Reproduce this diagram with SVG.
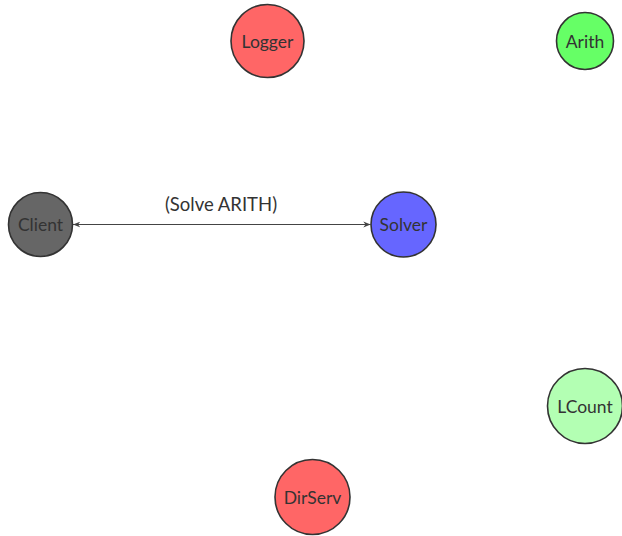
<svg xmlns="http://www.w3.org/2000/svg" width="622" height="536" viewBox="0 0 622 536">
  <style>
    .node circle { stroke: #333333; stroke-width: 1.6; }
    .node text, .label { font-family: "Lato", "Open Sans", "DejaVu Sans", sans-serif; font-size: 17.5px; fill: #333333; text-anchor: middle; dominant-baseline: central; }
    .label { font-size: 18.5px; }
    .edge { stroke: #444444; stroke-width: 1.2; fill: none; }
  </style>
  <defs>
    <marker id="arrow-end" viewBox="0 0 10 10" refX="10" refY="5" markerWidth="6" markerHeight="6" orient="auto">
      <path d="M0,1 L10,5 L0,9 L3,5 Z" fill="#444444"/>
    </marker>
    <marker id="arrow-start" viewBox="0 0 10 10" refX="0" refY="5" markerWidth="6" markerHeight="6" orient="auto">
      <path d="M10,1 L0,5 L10,9 L7,5 Z" fill="#444444"/>
    </marker>
  </defs>
  <rect width="622" height="536" fill="#ffffff"/>

  <g id="connectors">
    <line class="edge" x1="73" y1="224.5" x2="370.5" y2="224.5" marker-start="url(#arrow-start)" marker-end="url(#arrow-end)"/>
    <text class="label" x="221" y="204">(Solve ARITH)</text>
  </g>

  <g id="Logger" class="node">
    <circle cx="267.5" cy="41" r="36.5" fill="#ff6666"/>
    <text x="267.5" y="41">Logger</text>
  </g>
  <g id="Arith" class="node">
    <circle cx="585" cy="41" r="28.5" fill="#66ff66"/>
    <text x="585" y="41">Arith</text>
  </g>
  <g id="Client" class="node">
    <circle cx="40.5" cy="224.5" r="32" fill="#666666"/>
    <text x="40.5" y="224.5">Client</text>
  </g>
  <g id="Solver" class="node">
    <circle cx="403.5" cy="224.5" r="32.5" fill="#6666ff"/>
    <text x="403.5" y="224.5">Solver</text>
  </g>
  <g id="LCount" class="node">
    <circle cx="585" cy="406" r="37.5" fill="#b3ffb3"/>
    <text x="585" y="406">LCount</text>
  </g>
  <g id="DirServ" class="node">
    <circle cx="312.5" cy="497" r="37.5" fill="#ff6666"/>
    <text x="312.5" y="497">DirServ</text>
  </g>
</svg>
